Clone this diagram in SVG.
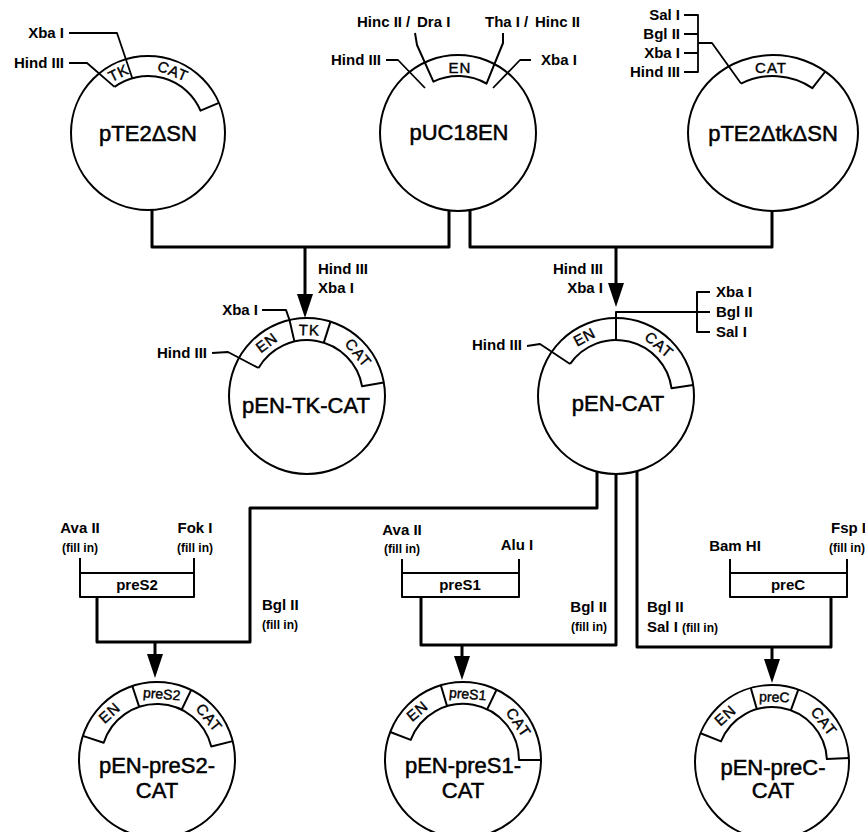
<svg xmlns="http://www.w3.org/2000/svg" width="865" height="832" viewBox="0 0 865 832">
<defs>
<style>
.c{fill:none;stroke:#000;stroke-width:2}
.b{fill:none;stroke:#000;stroke-width:2;stroke-linejoin:round}
.s{fill:none;stroke:#000;stroke-width:1.8;stroke-linejoin:round}
.k{fill:none;stroke:#000;stroke-width:3;stroke-linejoin:round}
.a{fill:none;stroke:#000;stroke-width:3;marker-end:url(#ah)}
text{font-family:"Liberation Sans",Arial,sans-serif;fill:#000}
.l{font-size:15px;font-weight:bold}
.f{font-size:12px;font-weight:bold}
.n{font-size:22px;text-anchor:middle;stroke:#000;stroke-width:0.5}
.g{font-size:15px;text-anchor:middle;stroke:#000;stroke-width:0.4;letter-spacing:1px}
.e{text-anchor:end}
.m{text-anchor:middle}
</style>
<marker id="ah" viewBox="0 0 24 16" refX="12" refY="8" markerWidth="24" markerHeight="16" markerUnits="userSpaceOnUse" orient="auto"><path d="M0,0 L24,8 L0,16 Z" fill="#000"/></marker>
</defs>
<rect width="865" height="832" fill="#fff"/>

<g id="connectors">
<path class="k" d="M152,210 V247 H449 V210"/>
<path class="k" d="M470,210 V247 H772 V211"/>
<path class="a" d="M305,247 V306"/>
<path class="a" d="M616,247 V295"/>
<path class="k" d="M597,471 V508 H250 V642 H97 V597"/>
<path class="a" d="M155,642 V666"/>
<path class="k" d="M616,474 V645 H421 V597"/>
<path class="a" d="M462,645 V668"/>
<path class="k" d="M637,471 V647 H831 V597"/>
<path class="a" d="M772,647 V671"/>
<text class="l" x="318" y="274">Hind III</text>
<text class="l" x="318" y="293">Xba I</text>
<text class="l e" x="603" y="274">Hind III</text>
<text class="l e" x="603" y="293">Xba I</text>
<text class="l" x="262" y="610">Bgl II</text>
<text class="f" x="262" y="629">(fill in)</text>
<text class="l e" x="607" y="612">Bgl II</text>
<text class="f e" x="607" y="631">(fill in)</text>
<text class="l" x="647" y="612">Bgl II</text>
<text class="l" x="647" y="632">Sal I <tspan class="f">(fill in)</tspan></text>
</g>

<g id="pTE2dSN">
<circle class="c" cx="148" cy="133" r="77"/>
<path class="b" d="M114.5,86.9 A57,57 0 0 1 200.5,110.7 L218.9,102.9"/>
<polyline class="s" points="69,63 87,63 114.5,86.9"/>
<polyline class="s" points="69,33 117,33 132.3,78.2"/>
<text class="g" transform="translate(118.6,72.8) rotate(-26)" dy=".35em">TK</text>
<text class="g" transform="translate(173,71) rotate(22)" dy=".35em">CAT</text>
<text class="l e" x="64" y="38">Xba I</text>
<text class="l e" x="64" y="68">Hind III</text>
<text class="n" x="148" y="141">pTE2ΔSN</text>
</g>

<g id="pUC18EN">
<circle class="c" cx="458" cy="133" r="78"/>
<path class="b" d="M415,33 L417,45 L433.4,81.6 A57,57 0 0 1 486.5,83.6 L503,43 L503,33"/>
<polyline class="s" points="386,60 398,60 425,88"/>
<polyline class="s" points="531,60 520,60 493,88"/>
<text class="g" x="460" y="68" dy=".35em">EN</text>
<text class="l" y="27"><tspan x="357">Hinc II</tspan><tspan x="406">/</tspan><tspan x="417">Dra I</tspan></text>
<text class="l" y="27"><tspan x="485">Tha I</tspan><tspan x="524">/</tspan><tspan x="535">Hinc II</tspan></text>
<text class="l e" x="381" y="65">Hind III</text>
<text class="l" x="541" y="65">Xba I</text>
<text class="n" x="459" y="140">pUC18EN</text>
</g>

<g id="pTE2dtkdSN">
<ellipse class="c" cx="773" cy="133" rx="85" ry="78"/>
<path class="b" d="M741,83.6 A64,57 0 0 1 812.4,88.1 L825.3,71.5"/>
<path class="s" d="M684,15 H698 V72 H684 M684,34 H698 M684,53 H698 M698,43 H712 L741,83.6"/>
<text class="l e" x="680" y="20">Sal I</text>
<text class="l e" x="680" y="39">Bgl II</text>
<text class="l e" x="680" y="58">Xba I</text>
<text class="l e" x="680" y="77">Hind III</text>
<text class="g" x="771" y="68" dy=".35em">CAT</text>
<text class="n" x="773" y="141">pTE2ΔtkΔSN</text>
</g>

<g id="pEN-TK-CAT">
<circle class="c" cx="307" cy="396" r="78"/>
<path class="b" d="M258.5,368 A56,56 0 0 1 362.1,386.3 L383.8,382.5"/>
<polyline class="s" points="212,353 228,352 258.5,368"/>
<polyline class="b" points="262,310 286,310 289.5,320 294.4,341.4"/>
<line class="b" x1="323.8" y1="342.6" x2="330.5" y2="321.6"/>
<text class="g" transform="translate(266.7,342.5) rotate(-37)" dy=".35em">EN</text>
<text class="g" transform="translate(309.3,330) rotate(2)" dy=".35em">TK</text>
<text class="g" transform="translate(358.3,352.9) rotate(50)" dy=".35em">CAT</text>
<text class="l e" x="258" y="315">Xba I</text>
<text class="l e" x="207" y="358">Hind III</text>
<text class="n" x="306" y="413">pEN-TK-CAT</text>
</g>

<g id="pEN-CAT">
<circle class="c" cx="616" cy="396" r="78"/>
<path class="b" d="M570.1,363.9 A56,56 0 0 1 671.5,388.2 L693.2,385.1"/>
<polyline class="s" points="527,346 540,344 570.1,363.9"/>
<path class="b" d="M616,340 V312 H710 M710,292 H697 V332 H710"/>
<text class="g" transform="translate(584.5,336.8) rotate(-28)" dy=".35em">EN</text>
<text class="g" transform="translate(659.1,344.7) rotate(40)" dy=".35em">CAT</text>
<text class="l e" x="522" y="350">Hind III</text>
<text class="l" x="716" y="297">Xba I</text>
<text class="l" x="716" y="317">Bgl II</text>
<text class="l" x="716" y="337">Sal I</text>
<text class="n" x="618" y="411">pEN-CAT</text>
</g>

<g id="frag-preS2">
<path class="b" d="M80,558 V597 H194 V558 M80,573 H194"/>
<text class="l m" x="137" y="590">preS2</text>
<text class="l m" x="80" y="533">Ava II</text>
<text class="f m" x="80" y="552">(fill in)</text>
<text class="l m" x="195" y="533">Fok I</text>
<text class="f m" x="195" y="552">(fill in)</text>
</g>

<g id="frag-preS1">
<path class="b" d="M402,559 V597 H519 V559 M402,573 H519"/>
<text class="l m" x="460" y="590">preS1</text>
<text class="l m" x="402" y="535">Ava II</text>
<text class="f m" x="402" y="553">(fill in)</text>
<text class="l m" x="517" y="550">Alu I</text>
</g>

<g id="frag-preC">
<path class="b" d="M730,559 V597 H847 V559 M730,573 H847"/>
<text class="l m" x="788" y="590">preC</text>
<text class="l m" x="735" y="551">Bam HI</text>
<text class="l" x="831" y="533">Fsp I</text>
<text class="f" x="829" y="552">(fill in)</text>
</g>

<g id="pEN-preS2-CAT">
<circle class="c" cx="157" cy="760" r="78"/>
<path class="b" d="M82.8,735.9 L103.7,742.7 A56,56 0 0 1 211.3,746.5 L232.7,741.1 M139.2,706.9 L132.3,686 M181.6,709.7 L191.2,689.9"/>
<text class="g" transform="translate(109.6,712.6) rotate(-42)" dy=".35em">EN</text>
<text class="g" transform="translate(161.7,694) rotate(5)" dy=".35em" style="font-size:14px;letter-spacing:0">preS2</text>
<text class="g" transform="translate(209.1,717.8) rotate(51)" dy=".35em">CAT</text>
<text class="n" x="157" y="773">pEN-preS2-</text>
<text class="n" x="157" y="798">CAT</text>
</g>

<g id="pEN-preS1-CAT">
<circle class="c" cx="463" cy="760" r="78"/>
<path class="b" d="M390.2,732 L410.7,739.9 A56,56 0 0 1 519,760 L541,760 M447.1,706.3 L440.8,685.2 M487.1,709.5 L496.6,689.6"/>
<text class="g" transform="translate(417.3,711) rotate(-40)" dy=".35em">EN</text>
<text class="g" transform="translate(467.7,694) rotate(5)" dy=".35em" style="font-size:14px;letter-spacing:0">preS1</text>
<text class="g" transform="translate(518.5,722.5) rotate(56)" dy=".35em">CAT</text>
<text class="n" x="463" y="773">pEN-preS1-</text>
<text class="n" x="463" y="798">CAT</text>
</g>

<g id="pEN-preC-CAT">
<circle class="c" cx="772" cy="762" r="77"/>
<path class="b" d="M700.6,733.2 L721,741.4 A55,55 0 0 1 826.9,759.1 L848.9,758 M756.8,709.1 L750.8,688 M790.8,710.3 L798.3,689.6"/>
<text class="g" transform="translate(725.3,715.3) rotate(-42)" dy=".35em">EN</text>
<text class="g" transform="translate(774.3,697) rotate(2)" dy=".35em" style="font-size:14px;letter-spacing:0">preC</text>
<text class="g" transform="translate(824,721.4) rotate(52)" dy=".35em">CAT</text>
<text class="n" x="773" y="775">pEN-preC-</text>
<text class="n" x="773" y="798">CAT</text>
</g>
</svg>
